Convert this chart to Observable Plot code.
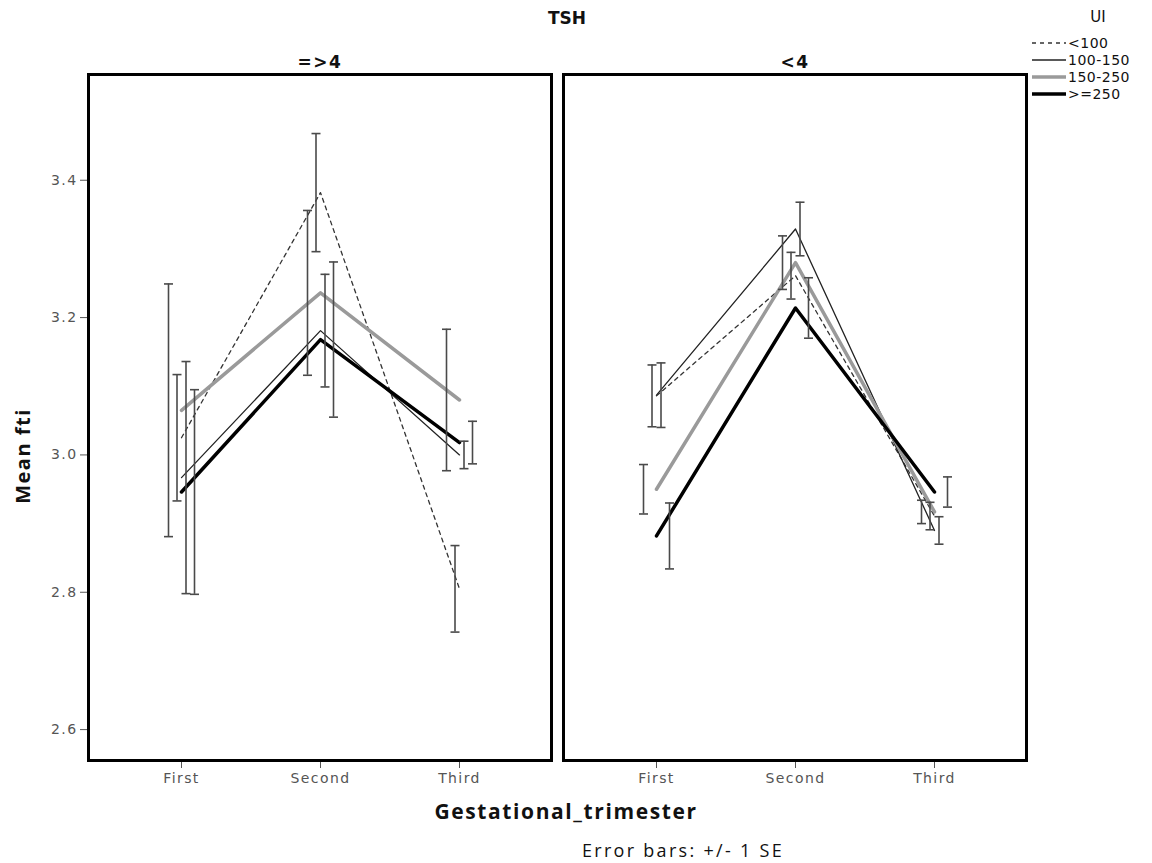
<!DOCTYPE html>
<html><head><meta charset="utf-8">
<script src="https://cdn.jsdelivr.net/npm/d3@7"></script>
<script src="https://cdn.jsdelivr.net/npm/@observablehq/plot@0.6"></script>
<style>
body{margin:0;background:#fff;}
#wrap{position:relative;width:1152px;height:863px;overflow:hidden;}
.lbl{position:absolute;white-space:nowrap;color:#111;font-family:"DejaVu Sans",sans-serif;}
</style></head><body><div id="wrap"></div>
<script>
// ---- data ----
const panels = ["=>4", "<4"];
const trimesters = ["First", "Second", "Third"];
const groups = ["<100", "100-150", "150-250", ">=250"];
const yTicks = [2.6, 2.8, 3.0, 3.2, 3.4];

// TSH =>4
const ge4_lt100_mean = [3.025, 3.382, 2.805];
const ge4_lt100_se   = [0.092, 0.086, 0.063];
const ge4_100_150_mean = [2.967, 3.181, 3.000];
const ge4_100_150_se   = [0.169, 0.082, 0.020];
const ge4_150_250_mean = [3.065, 3.236, 3.080];
const ge4_150_250_se   = [0.184, 0.120, 0.103];
const ge4_ge250_mean = [2.946, 3.168, 3.018];
const ge4_ge250_se   = [0.149, 0.113, 0.031];
// TSH <4
const lt4_lt100_mean = [3.086, 3.261, 2.911];
const lt4_lt100_se   = [0.045, 0.034, 0.020];
const lt4_100_150_mean = [3.087, 3.329, 2.890];
const lt4_100_150_se   = [0.047, 0.039, 0.020];
const lt4_150_250_mean = [2.950, 3.280, 2.917];
const lt4_150_250_se   = [0.036, 0.039, 0.017];
const lt4_ge250_mean = [2.882, 3.214, 2.946];
const lt4_ge250_se   = [0.048, 0.044, 0.022];

const table = [
  ["=>4", "<100", ge4_lt100_mean, ge4_lt100_se],
  ["=>4", "100-150", ge4_100_150_mean, ge4_100_150_se],
  ["=>4", "150-250", ge4_150_250_mean, ge4_150_250_se],
  ["=>4", ">=250", ge4_ge250_mean, ge4_ge250_se],
  ["<4", "<100", lt4_lt100_mean, lt4_lt100_se],
  ["<4", "100-150", lt4_100_150_mean, lt4_100_150_se],
  ["<4", "150-250", lt4_150_250_mean, lt4_150_250_se],
  ["<4", ">=250", lt4_ge250_mean, lt4_ge250_se]
];
const rows = [];
for (const [panel, group, m, s] of table)
  trimesters.forEach((t, i) => rows.push({panel, group, tri: t, mean: m[i], se: s[i]}));

// ---- styles ----
const lineStyle = {
  "<100": {stroke: "#333", strokeWidth: 1.3, strokeDasharray: "4,4"},
  "100-150": {stroke: "#222", strokeWidth: 1.3},
  "150-250": {stroke: "#9a9a9a", strokeWidth: 3.5},
  ">=250": {stroke: "#000", strokeWidth: 3.5}
};
const dodge = {"150-250": -13, "<100": -4.5, "100-150": 4.5, ">=250": 13};
const cap = {draw(ctx) { ctx.moveTo(-4.5, 0); ctx.lineTo(4.5, 0); }};

const marks = [];
for (const g of groups) {
  const d = rows.filter(r => r.group === g);
  marks.push(Plot.line(d, {x: "tri", y: "mean", fx: "panel", ...lineStyle[g]}));
}
for (const g of groups) {
  const d = rows.filter(r => r.group === g);
  const eb = {stroke: "#4a4a4a", strokeWidth: 1.6, dx: dodge[g], fx: "panel"};
  marks.push(Plot.ruleX(d, {x: "tri", y1: r => r.mean - r.se, y2: r => r.mean + r.se, ...eb}));
  marks.push(Plot.dot(d, {x: "tri", y: r => r.mean - r.se, symbol: cap, fill: "none", ...eb}));
  marks.push(Plot.dot(d, {x: "tri", y: r => r.mean + r.se, symbol: cap, fill: "none", ...eb}));
}
marks.push(Plot.frame({stroke: "#000", strokeWidth: 3}));

const chart = Plot.plot({
  width: 1152, height: 863,
  marginTop: 74, marginBottom: 103, marginLeft: 87, marginRight: 125,
  style: {fontFamily: "DejaVu Sans, sans-serif", fontSize: "14px", color: "#555", background: "#fff", letterSpacing: "1.4px"},
  fx: {domain: panels, paddingInner: 0.0252, paddingOuter: 0, label: null, axis: "top", tickSize: 0, tickPadding: 7},
  x: {type: "point", domain: trimesters, padding: 0.654, label: null, tickSize: 8, tickPadding: 5},
  y: {domain: [2.555, 3.554], ticks: yTicks, tickFormat: d3.format(".1f"), label: null, tickSize: 8, tickPadding: 3},
  marks
});
const wrap = document.getElementById("wrap");
wrap.appendChild(chart);
d3.select(chart).selectAll("text").filter(function() { return panels.includes(this.textContent); })
  .style("font-weight", "bold").style("font-size", "17px").attr("fill", "#111").style("letter-spacing", "1.5px");

function label(text, x, y, css) {
  const el = document.createElement("div");
  el.className = "lbl";
  el.textContent = text;
  el.style.left = x + "px"; el.style.top = y + "px";
  Object.assign(el.style, css || {});
  wrap.appendChild(el);
  return el;
}
label("TSH", 567, 8, {transform: "translateX(-50%)", fontWeight: "bold", fontSize: "17px"});
label("Gestational_trimester", 566, 797, {transform: "translateX(-50%)", fontWeight: "bold", fontSize: "21px", letterSpacing: "1.6px", fontFamily: "'Open Sans',sans-serif"});
label("Error bars: +/- 1 SE", 683, 838, {transform: "translateX(-50%)", fontSize: "18px", letterSpacing: "2.3px", fontFamily: "'Open Sans',sans-serif"});
label("Mean fti", 22, 456, {transform: "translate(-50%,-50%) rotate(-90deg)", fontWeight: "bold", fontSize: "20px", letterSpacing: "1.5px", fontFamily: "'Open Sans',sans-serif"});
label("UI", 1098, 8, {transform: "translateX(-50%)", fontSize: "15px"});

// legend
const leg = d3.select(wrap).append("svg").attr("width", 125).attr("height", 110)
  .style("position", "absolute").style("left", "1027px").style("top", "0px");
groups.forEach((g, i) => {
  const y = 43 + i * 17;
  const s = lineStyle[g];
  leg.append("line").attr("x1", 5).attr("x2", 39).attr("y1", y).attr("y2", y)
    .attr("stroke", s.stroke).attr("stroke-width", s.strokeWidth).attr("stroke-dasharray", s.strokeDasharray || null);
  leg.append("text").attr("x", 41).attr("y", y + 5).text(g)
    .attr("font-family", "DejaVu Sans, sans-serif").attr("font-size", 14).attr("fill", "#111").style("letter-spacing", "0.5px");
});
</script></body></html>
